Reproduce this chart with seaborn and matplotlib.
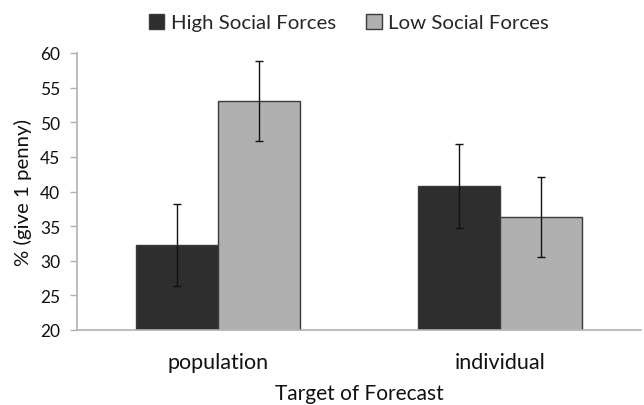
import matplotlib
matplotlib.use("Agg")
import matplotlib.pyplot as plt
import seaborn as sns
import pandas as pd
import numpy as np

categories = ["population", "individual"]
groups = ["High Social Forces", "Low Social Forces"]
high_vals = [32.3, 40.8]
low_vals = [53.1, 36.3]
high_err = [5.9, 6.0]
low_err = [5.8, 5.8]

df = pd.DataFrame({
    "target": categories * 2,
    "group": [groups[0]] * 2 + [groups[1]] * 2,
    "value": high_vals + low_vals,
})
errs = {groups[0]: high_err, groups[1]: low_err}

sns.set_theme(style="white")
plt.rcParams["font.family"] = ["Lato", "DejaVu Sans"]

fig = plt.figure(figsize=(6.44, 4.06), dpi=100)
ax = fig.add_axes([77/644, 75/406, 564/644, 277/406])

sns.barplot(data=df, x="target", y="value", hue="group", order=categories,
            hue_order=groups, palette=["#2e2e2e", "#b0b0b0"], width=0.58,
            edgecolor="#3a3a3a", linewidth=1.0, ax=ax, errorbar=None, saturation=1)

for cont, g in zip(ax.containers, groups):
    xs = [p.get_x() + p.get_width() / 2 for p in cont.patches]
    ys = [p.get_height() for p in cont.patches]
    ax.errorbar(xs, ys, yerr=errs[g], fmt="none", ecolor="#111111",
                elinewidth=1.0, capsize=3, capthick=1.0)

ax.set_ylim(20, 60)
ax.set_xlim(-0.5, 1.5)
ax.set_yticks(range(20, 61, 5))
ax.set_ylabel("% (give 1 penny)", fontsize=14.7, color="#111111", labelpad=6)
ax.set_xlabel("Target of Forecast", fontsize=15, color="#111111", labelpad=8)

for s in ["top", "right"]:
    ax.spines[s].set_visible(False)
for s in ["left", "bottom"]:
    ax.spines[s].set_color("#b0b0b0")
    ax.spines[s].set_linewidth(1.2)

ax.set_xticks([0.5], minor=True)
ax.tick_params(axis="x", which="major", length=0, labelsize=15.5, labelcolor="#111111", pad=16)
ax.tick_params(axis="x", which="minor", length=6, color="#b0b0b0", width=1, direction="out")
ax.tick_params(axis="y", length=5, color="#b0b0b0", width=1, direction="out",
               labelsize=12.5, labelcolor="#111111", left=True, pad=7)

handles, labels = ax.get_legend_handles_labels()
ax.legend(handles, labels, loc="center", bbox_to_anchor=(0.482, 1.11), ncol=2,
          frameon=False, fontsize=14.7, handlelength=0.75, handleheight=0.75,
          columnspacing=1.5, handletextpad=0.3)

fig.savefig("out.png", dpi=100)
